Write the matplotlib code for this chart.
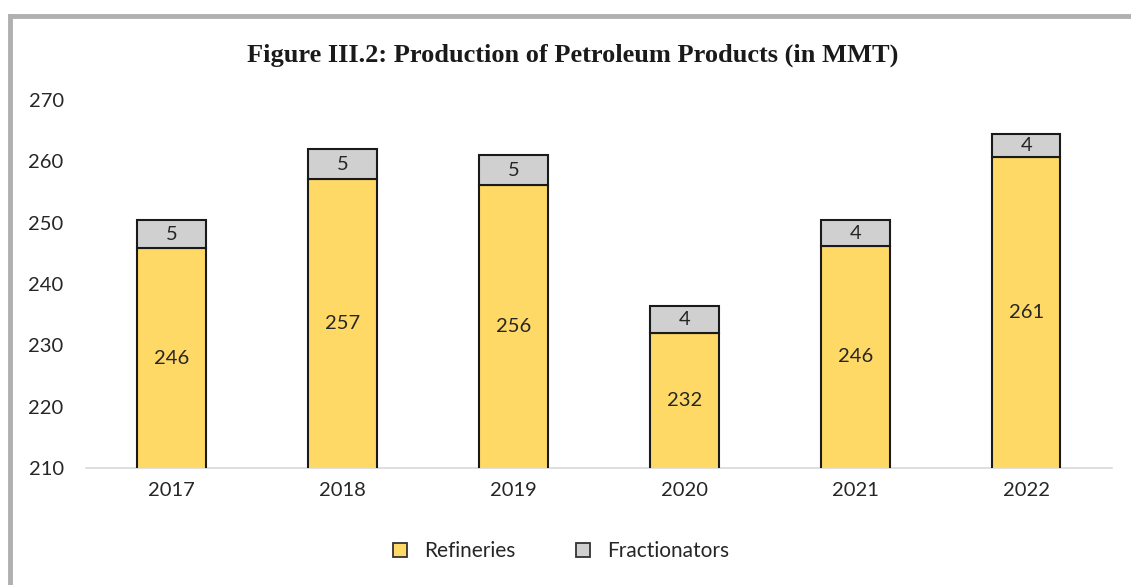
import matplotlib.pyplot as plt
from matplotlib.lines import Line2D
import numpy as np

years = ["2017", "2018", "2019", "2020", "2021", "2022"]
refineries = [245.8, 257.1, 256.1, 232.0, 246.2, 260.7]
fractionators = [4.6, 4.9, 4.9, 4.4, 4.2, 3.8]
ref_labels = ["246", "257", "256", "232", "246", "261"]
frac_labels = ["5", "5", "5", "4", "4", "4"]

plt.rcParams['font.family'] = ['Lato', 'DejaVu Sans']

fig = plt.figure(figsize=(11.31, 5.85), dpi=100, facecolor="white")
ax = fig.add_axes([0.076, 0.2, 0.907, 0.629])

x = np.arange(len(years))
w = 0.40
ax.bar(x, refineries, w, color="#FFD966", edgecolor="#1a1a1a", linewidth=1.5,
       label="Refineries", zorder=3)
ax.bar(x, fractionators, w, bottom=refineries, color="#D0D0D0", edgecolor="#1a1a1a",
       linewidth=1.5, label="Fractionators", zorder=3)

ax.set_ylim(210, 270)
ax.set_xlim(-0.5, len(years) - 0.5)
ax.set_yticks(range(210, 271, 10))
ax.set_xticks(x)
ax.set_xticklabels(years)

for i in range(len(years)):
    ax.text(x[i], (210 + refineries[i]) / 2, ref_labels[i], ha="center", va="center",
            fontsize=14.5, color="#262626", zorder=4)
    ax.text(x[i], refineries[i] + fractionators[i] / 2, frac_labels[i], ha="center",
            va="center", fontsize=14.5, color="#262626", zorder=4)

for s in ["top", "right", "left"]:
    ax.spines[s].set_visible(False)
ax.spines["bottom"].set_color("#D9D9D9")
ax.spines["bottom"].set_linewidth(1.2)
ax.tick_params(axis="both", length=0, labelsize=14.5, colors="#262626")
ax.tick_params(axis="y", pad=16)
ax.tick_params(axis="x", pad=10)

fig.text(0.506, 0.905, "Figure III.2: Production of Petroleum Products (in MMT)",
         ha="center", va="center", fontsize=19, fontweight="bold",
         family="Liberation Serif", color="#1a1a1a")

handles = [
    Line2D([], [], marker="s", linestyle="none", markersize=10, markerfacecolor="#FFD966",
           markeredgecolor="#333333", markeredgewidth=1.3, label="Refineries"),
    Line2D([], [], marker="s", linestyle="none", markersize=10, markerfacecolor="#D0D0D0",
           markeredgecolor="#333333", markeredgewidth=1.3, label="Fractionators"),
]
fig.legend(handles=handles, loc="center", bbox_to_anchor=(0.49, 0.058), ncol=2,
           frameon=False, fontsize=15, handletextpad=0.2, columnspacing=2.2,
           labelcolor="#262626")

# page border (top and left)
fig.add_artist(Line2D([0.009, 1.0], [0.973, 0.973], color="#B0B0B0", linewidth=3.5,
                      transform=fig.transFigure))
fig.add_artist(Line2D([0.009, 0.009], [0.0, 0.973], color="#B0B0B0", linewidth=3.5,
                      transform=fig.transFigure))

plt.savefig("out.png", dpi=100)
